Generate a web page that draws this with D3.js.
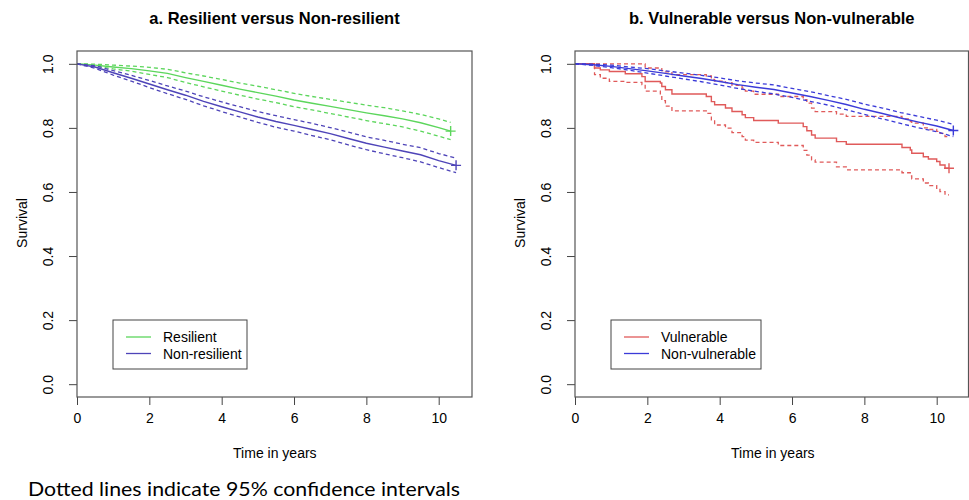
<!DOCTYPE html>
<html lang="en">
<head>
    <meta charset="UTF-8">
    <title>Survival curves</title>
    <style>
        body { margin: 0; background: #fff; }
        text { font-family: "Liberation Sans", Arial, sans-serif; fill: #000; }
    </style>
</head>
<body>
    <div id="chart"></div>
    <script src="https://cdn.jsdelivr.net/npm/d3@7"></script>
    <script>
        // ---- data ----
        const xTicks = [0, 2, 4, 6, 8, 10]
        const yTicks = [0, 0.2, 0.4, 0.6, 0.8, 1.0]

        // panel a: Resilient
        const resTime  = [0, 0.5, 1, 1.5, 2, 2.5, 3, 3.5, 4, 4.5, 5, 5.5, 6, 6.5, 7, 7.5, 8, 8.5, 9, 9.5, 10, 10.33]
        const resSurv  = [1, 0.996, 0.990, 0.985, 0.978, 0.970, 0.957, 0.945, 0.933, 0.921, 0.910, 0.899, 0.887, 0.877, 0.867, 0.857, 0.847, 0.838, 0.828, 0.816, 0.801, 0.790]
        const resUpper = [1, 0.999, 0.996, 0.993, 0.989, 0.983, 0.972, 0.962, 0.951, 0.940, 0.930, 0.919, 0.908, 0.898, 0.889, 0.880, 0.871, 0.863, 0.853, 0.842, 0.828, 0.817]
        const resLower = [1, 0.993, 0.984, 0.977, 0.967, 0.957, 0.942, 0.928, 0.915, 0.902, 0.890, 0.879, 0.866, 0.856, 0.845, 0.834, 0.823, 0.813, 0.803, 0.790, 0.774, 0.763]

        // panel a: Non-resilient
        const nrTime  = [0, 0.5, 1, 1.5, 2, 2.5, 3, 3.5, 4, 4.5, 5, 5.5, 6, 6.5, 7, 7.5, 8, 8.5, 9, 9.5, 10, 10.48]
        const nrSurv  = [1, 0.990, 0.972, 0.955, 0.937, 0.919, 0.902, 0.883, 0.866, 0.850, 0.834, 0.820, 0.808, 0.795, 0.782, 0.767, 0.752, 0.740, 0.728, 0.716, 0.698, 0.683]
        const nrUpper = [1, 0.994, 0.979, 0.964, 0.948, 0.931, 0.915, 0.897, 0.881, 0.866, 0.851, 0.838, 0.826, 0.814, 0.801, 0.787, 0.772, 0.761, 0.749, 0.738, 0.720, 0.706]
        const nrLower = [1, 0.986, 0.965, 0.946, 0.926, 0.907, 0.889, 0.869, 0.851, 0.834, 0.817, 0.802, 0.790, 0.776, 0.763, 0.747, 0.732, 0.719, 0.707, 0.694, 0.676, 0.660]

        // panel b: Vulnerable (step curve)
        const vTime  = [0, 0.54, 0.70, 0.95, 1.39, 1.85, 1.94, 2.36, 2.40, 2.50, 2.68, 3.63, 3.77, 3.86, 4.16, 4.34, 4.62, 4.71, 4.94, 5.62, 6.31, 6.41, 6.54, 6.64, 7.23, 7.50, 9.04, 9.27, 9.31, 9.63, 9.77, 10.00, 10.09, 10.23, 10.34]
        const vSurv  = [1, 0.987, 0.981, 0.976, 0.969, 0.960, 0.945, 0.940, 0.929, 0.919, 0.906, 0.898, 0.882, 0.872, 0.862, 0.851, 0.841, 0.832, 0.823, 0.815, 0.804, 0.791, 0.778, 0.768, 0.757, 0.749, 0.739, 0.731, 0.721, 0.710, 0.703, 0.695, 0.684, 0.674, 0.674]
        const vUpper = [1, 1, 1, 1, 1, 1, 0.987, 0.985, 0.979, 0.975, 0.966, 0.962, 0.951, 0.946, 0.941, 0.933, 0.924, 0.915, 0.905, 0.898, 0.888, 0.877, 0.862, 0.851, 0.843, 0.836, 0.828, 0.820, 0.815, 0.800, 0.795, 0.789, 0.783, 0.773, 0.773]
        const vLower = [1, 0.966, 0.955, 0.945, 0.942, 0.935, 0.915, 0.900, 0.885, 0.868, 0.853, 0.845, 0.825, 0.809, 0.799, 0.785, 0.773, 0.762, 0.755, 0.745, 0.730, 0.715, 0.700, 0.693, 0.678, 0.669, 0.660, 0.650, 0.641, 0.628, 0.620, 0.611, 0.601, 0.591, 0.591]

        // panel b: Non-vulnerable
        const nvTime  = [0, 0.5, 1, 1.5, 2, 2.5, 3, 3.5, 4, 4.5, 5, 5.5, 6, 6.5, 7, 7.5, 8, 8.5, 9, 9.5, 10, 10.46]
        const nvSurv  = [1, 0.997, 0.992, 0.985, 0.978, 0.970, 0.962, 0.954, 0.945, 0.935, 0.927, 0.920, 0.909, 0.898, 0.886, 0.873, 0.858, 0.845, 0.831, 0.818, 0.806, 0.792]
        const nvUpper = [1, 0.999, 0.996, 0.990, 0.985, 0.978, 0.971, 0.964, 0.956, 0.947, 0.940, 0.934, 0.923, 0.913, 0.901, 0.889, 0.874, 0.862, 0.848, 0.836, 0.824, 0.811]
        const nvLower = [1, 0.995, 0.988, 0.980, 0.971, 0.962, 0.953, 0.944, 0.934, 0.923, 0.914, 0.906, 0.895, 0.883, 0.871, 0.857, 0.842, 0.828, 0.814, 0.800, 0.788, 0.773]

        const green = "#5cd65c", slate = "#4e44b8", blue = "#3b3bd8", red = "#e05a5a"

        const panels = [
            {title: "a. Resilient versus Non-resilient", x0: 77, x1: 472,
             legend: ["Resilient", "Non-resilient"], legendX: 113, legendW: 134,
             series: [
                 {t: resTime, s: resSurv, lo: resLower, hi: resUpper, color: green, curve: d3.curveLinear},
                 {t: nrTime, s: nrSurv, lo: nrLower, hi: nrUpper, color: slate, curve: d3.curveLinear}
             ]},
            {title: "b. Vulnerable versus Non-vulnerable", x0: 575, x1: 968.5,
             legend: ["Vulnerable", "Non-vulnerable"], legendX: 611, legendW: 150,
             series: [
                 {t: vTime, s: vSurv, lo: vLower, hi: vUpper, color: red, curve: d3.curveStepAfter},
                 {t: nvTime, s: nvSurv, lo: nvLower, hi: nvUpper, color: blue, curve: d3.curveLinear}
             ]}
        ]

        const [width, height] = [969, 500]
        const svg = d3.select("#chart").append("svg")
            .attr("width", width)
            .attr("height", height)

        const y = d3.scaleLinear().domain([-0.04, 1.04]).range([397, 51])

        panels.forEach(function (p) {
            // survfit style: axis starts at 0, runs past the last time
            var x = d3.scaleLinear().domain([0, (p.x1 - p.x0) / 36.17]).range([p.x0, p.x1])
            var g = svg.append("g")

            g.append("text")
                .attr("x", (p.x0 + p.x1) / 2)
                .attr("y", 24)
                .attr("text-anchor", "middle")
                .style("font-size", "16.5px")
                .style("font-weight", "bold")
                .text(p.title)

            // x axis
            var xa = g.append("g")
                .attr("transform", "translate(0,397)")
                .call(d3.axisBottom(x).tickValues(xTicks).tickSize(8).tickSizeOuter(0).tickPadding(8))
            xa.select(".domain").remove()
            xa.selectAll("line").attr("stroke", "#444")
            xa.selectAll("text").style("font-size", "14px").style("font-family", "Liberation Sans, Arial, sans-serif")

            // y axis with rotated labels
            var ya = g.append("g")
                .attr("transform", "translate(" + p.x0 + ",0)")
                .call(d3.axisLeft(y).tickValues(yTicks).tickFormat(d3.format(".1f")).tickSize(8).tickSizeOuter(0))
            ya.select(".domain").remove()
            ya.selectAll("line").attr("stroke", "#444")
            ya.selectAll("text")
                .style("font-size", "14px")
                .style("font-family", "Liberation Sans, Arial, sans-serif")
                .attr("x", 0).attr("dy", 0)
                .attr("transform", "translate(-24,0) rotate(-90)")
                .attr("text-anchor", "middle")

            g.append("text")
                .attr("transform", "translate(" + (p.x0 - 50) + ",223) rotate(-90)")
                .attr("text-anchor", "middle")
                .style("font-size", "14px")
                .text("Survival")

            g.append("text")
                .attr("x", x(5.47))
                .attr("y", 458)
                .attr("text-anchor", "middle")
                .style("font-size", "14px")
                .text("Time in years")

            // curves
            p.series.forEach(function (s) {
                var pts = s.t.map((t, i) => ({t: t, s: s.s[i], lo: s.lo[i], hi: s.hi[i]}))
                var line = key => d3.line().curve(s.curve).x(d => x(d.t)).y(d => y(d[key]))
                ;["lo", "hi"].forEach(function (k) {
                    g.append("path").datum(pts)
                        .attr("d", line(k))
                        .attr("fill", "none")
                        .attr("stroke", s.color)
                        .attr("stroke-width", 1.3)
                        .attr("stroke-dasharray", "4,3")
                })
                g.append("path").datum(pts)
                    .attr("d", line("s"))
                    .attr("fill", "none")
                    .attr("stroke", s.color)
                    .attr("stroke-width", 1.4)
                var last = pts[pts.length - 1]
                var cx = x(last.t), cy = y(last.s)
                g.append("path")
                    .attr("d", "M" + (cx - 5) + "," + cy + "H" + (cx + 5) + "M" + cx + "," + (cy - 5) + "V" + (cy + 5))
                    .attr("stroke", s.color)
                    .attr("stroke-width", 1.4)
            })

            // box
            g.append("rect")
                .attr("x", p.x0).attr("y", 51)
                .attr("width", p.x1 - p.x0).attr("height", 346)
                .attr("fill", "none")
                .attr("stroke", "#555")
                .attr("stroke-width", 1.2)

            // legend
            g.append("rect")
                .attr("x", p.legendX).attr("y", 320)
                .attr("width", p.legendW).attr("height", 49)
                .attr("fill", "#fff")
                .attr("stroke", "#444")
                .attr("stroke-width", 1)
            p.legend.forEach(function (name, i) {
                var ly = 337 + i * 16.5
                g.append("line")
                    .attr("x1", p.legendX + 13).attr("x2", p.legendX + 38)
                    .attr("y1", ly).attr("y2", ly)
                    .attr("stroke", p.series[i].color)
                    .attr("stroke-width", 1.3)
                g.append("text")
                    .attr("x", p.legendX + 50)
                    .attr("y", ly + 5)
                    .style("font-size", "14px")
                    .text(name)
            })
        })

        svg.append("text")
            .attr("x", 28)
            .attr("y", 496)
            .attr("textLength", 432)
            .attr("lengthAdjust", "spacingAndGlyphs")
            .style("font-family", "Lato, 'Open Sans', sans-serif")
            .style("font-size", "19px")
            .text("Dotted lines indicate 95% confidence intervals")
    </script>
</body>
</html>
